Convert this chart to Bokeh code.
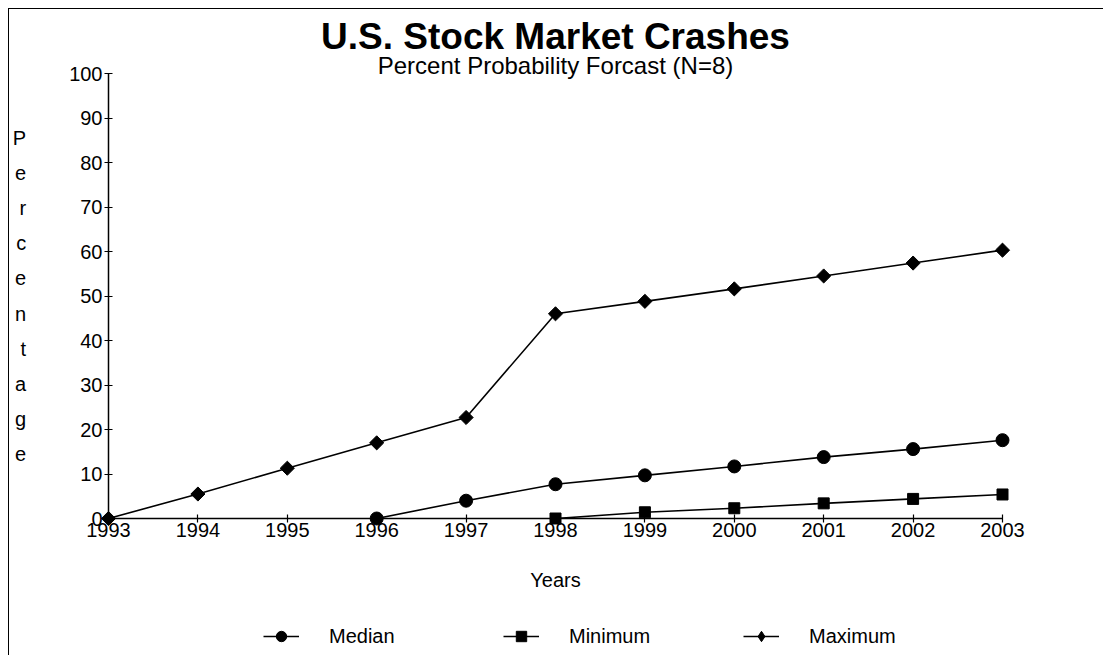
from bokeh.plotting import figure
from bokeh.layouts import column
from bokeh.models import Range1d, FixedTicker, Title, Legend, LegendItem
from bokeh.embed import file_html
from bokeh.resources import INLINE
import numpy as np

# ---- data ----
years = [1993, 1994, 1995, 1996, 1997, 1998, 1999, 2000, 2001, 2002, 2003]
maximum = [0, 5.5, 11.3, 17.0, 22.7, 46.0, 48.8, 51.6, 54.5, 57.4, 60.3]
median_years = [1996, 1997, 1998, 1999, 2000, 2001, 2002, 2003]
median = [0, 4.0, 7.7, 9.7, 11.7, 13.8, 15.6, 17.6]
minimum_years = [1998, 1999, 2000, 2001, 2002, 2003]
minimum = [0, 1.4, 2.3, 3.4, 4.4, 5.4]
y_ticks = [0, 10, 20, 30, 40, 50, 60, 70, 80, 90, 100]
title_text = "U.S. Stock Market Crashes"
subtitle_text = "Percent Probability Forcast (N=8)"
ylabel_text = "Percentage"
xlabel_text = "Years"
series_names = ["Median", "Minimum", "Maximum"]

FONT = "Liberation Sans"

p = figure(width=1095, height=600, output_backend="svg", toolbar_location=None,
           x_range=Range1d(1993, 2003), y_range=Range1d(0, 100),
           min_border_left=98, min_border_right=102,
           min_border_top=64, min_border_bottom=91)
p.xgrid.visible = False
p.ygrid.visible = False
p.outline_line_color = None
p.background_fill_color = "white"
p.border_fill_color = "white"

for ax in (p.xaxis[0], p.yaxis[0]):
    ax.axis_line_color = "black"
    ax.axis_line_width = 1.5
    ax.major_tick_line_color = "black"
    ax.major_tick_line_width = 1.2
    ax.major_tick_in = 4
    ax.major_tick_out = 4
    ax.minor_tick_line_color = None
    ax.major_label_text_font = FONT
    ax.major_label_text_font_size = "20px"
    ax.major_label_text_color = "black"

p.xaxis.ticker = FixedTicker(ticks=years)
p.yaxis.ticker = FixedTicker(ticks=y_ticks)
p.xaxis.major_label_standoff = 0
p.yaxis.major_label_standoff = 2
p.xaxis.axis_label = xlabel_text
p.xaxis.axis_label_text_font = FONT
p.xaxis.axis_label_text_font_size = "20px"
p.xaxis.axis_label_text_font_style = "normal"
p.xaxis.axis_label_text_color = "black"
p.xaxis.axis_label_standoff = 29

# stacked vertical y-axis label
p.yaxis.axis_label = "\n".join(ylabel_text)
p.yaxis.axis_label_orientation = "horizontal"
p.yaxis.axis_label_text_font = FONT
p.yaxis.axis_label_text_font_size = "20px"
p.yaxis.axis_label_text_font_style = "normal"
p.yaxis.axis_label_text_color = "black"
p.yaxis.axis_label_text_line_height = 1.6
p.yaxis.axis_label_standoff = 40

# series
p.line(median_years, median, line_color="black", line_width=1.6)
p.scatter(median_years, median, marker="circle", size=13, color="black", level="overlay")
p.line(minimum_years, minimum, line_color="black", line_width=1.6)
p.scatter(minimum_years, minimum, marker="square", size=11, color="black", level="overlay")
p.line(years, maximum, line_color="black", line_width=1.6)
p.scatter(years, maximum, marker="square", size=10, angle=np.pi / 4, color="black", level="overlay")

# titles
p.add_layout(Title(text=subtitle_text, text_font=FONT, text_font_size="24px",
                   text_font_style="normal", align="center", standoff=-10,
                   text_color="black"), "above")
p.add_layout(Title(text=title_text, text_font=FONT, text_font_size="37px",
                   text_font_style="bold", align="center", standoff=-4,
                   text_color="black"), "above")

# legend strip (separate svg figure below the chart)
lg = figure(width=1095, height=47, output_backend="svg", toolbar_location=None,
            x_range=Range1d(0, 1), y_range=Range1d(0, 1),
            x_axis_type=None, y_axis_type=None, min_border=0)
lg.xgrid.visible = False
lg.ygrid.visible = False
lg.outline_line_color = None
off = [-5]  # legend key glyphs sit outside the visible range
k_med_l = lg.line(x=off, y=off, line_color="black", line_width=1.6)
k_med_m = lg.scatter(x=off, y=off, marker="circle", size=13, color="black")
k_min_l = lg.line(x=off, y=off, line_color="black", line_width=1.6)
k_min_m = lg.scatter(x=off, y=off, marker="square", size=11, color="black")
k_max_l = lg.line(x=off, y=off, line_color="black", line_width=1.6)
k_max_m = lg.scatter(x=off, y=off, marker="diamond", size=16, color="black")

legend = Legend(items=[
    LegendItem(label=series_names[0], renderers=[k_med_l, k_med_m]),
    LegendItem(label=series_names[1], renderers=[k_min_l, k_min_m]),
    LegendItem(label=series_names[2], renderers=[k_max_l, k_max_m]),
], orientation="horizontal", location=(155, 7))
legend.border_line_color = None
legend.background_fill_alpha = 0
legend.label_text_font = FONT
legend.label_text_font_size = "20px"
legend.label_text_color = "black"
legend.glyph_width = 36
legend.glyph_height = 26
legend.label_standoff = 30
legend.label_width = 150
legend.spacing = 24
legend.margin = 0
legend.padding = 4
lg.add_layout(legend, "center")

layout = column(p, lg, spacing=0)
layout.styles = {"border-left": "1px solid black", "border-top": "1px solid black",
                 "margin-left": "8px", "margin-top": "8px"}

open("out.html", "w").write(file_html(layout, INLINE))
